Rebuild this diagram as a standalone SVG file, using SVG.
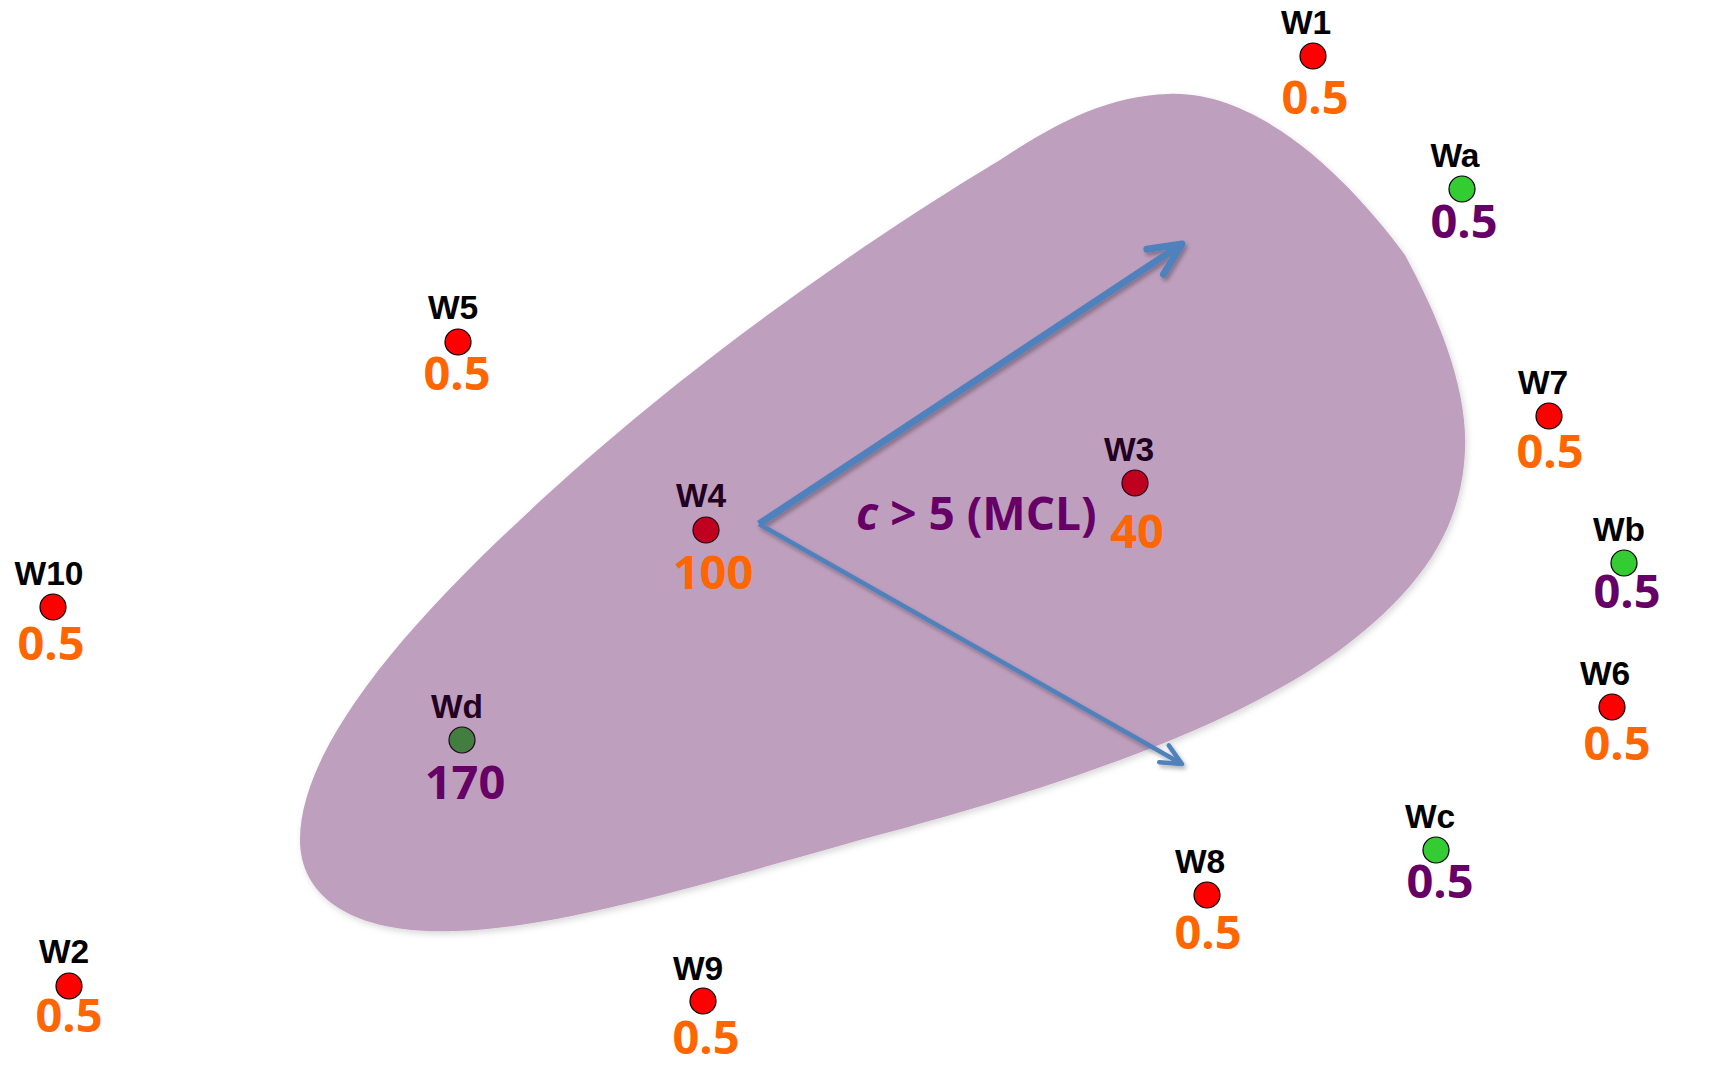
<svg xmlns="http://www.w3.org/2000/svg" width="1727" height="1067" viewBox="0 0 1727 1067">
<defs>
<style>
.lbl{font-family:"Liberation Sans",Arial,sans-serif;font-weight:700;font-size:33.5px;text-anchor:middle;fill:#000}
.lbl.in{fill:#22001f}
.val{font-family:"Open Sans","Liberation Sans",sans-serif;font-weight:700;font-size:47px;text-anchor:middle}
.or{fill:#ff6600}
.pu{fill:#660066}
.dot{stroke:#000;stroke-width:1.2}
.red{fill:#ff0000}
.grn{fill:#33cc33}
.redin{fill:#c0001f;stroke:#22001f}
.grnin{fill:#427e3f;stroke:#22001f}
.arrow{fill:none;stroke:#4f81bd;stroke-linecap:butt;marker-end:url(#ah)}
.note{font-family:"Open Sans","Liberation Sans",sans-serif;font-weight:700;font-size:46px;fill:#660066}
</style>
<marker id="ah" viewBox="-6 -4 8 8" markerWidth="8" markerHeight="8" refX="0" refY="0" orient="auto" markerUnits="strokeWidth" overflow="visible">
<path d="M-4.6 -2.15 L0 0 L-4.6 2.15" fill="none" stroke="#4f81bd" stroke-width="1" stroke-linecap="round" stroke-linejoin="round"/>
</marker>
<filter id="sh" x="-10%" y="-10%" width="130%" height="130%">
<feGaussianBlur in="SourceAlpha" stdDeviation="2"/>
<feOffset dx="2" dy="3" result="b"/>
<feFlood flood-color="#000" flood-opacity="0.3"/>
<feComposite in2="b" operator="in"/>
<feMerge><feMergeNode/><feMergeNode in="SourceGraphic"/></feMerge>
</filter>
<filter id="soft" x="-5%" y="-5%" width="110%" height="110%">
<feGaussianBlur in="SourceAlpha" stdDeviation="3"/>
<feOffset dx="2" dy="3" result="b"/>
<feFlood flood-color="#000" flood-opacity="0.15"/>
<feComposite in2="b" operator="in"/>
<feMerge><feMergeNode/><feMergeNode in="SourceGraphic"/></feMerge>
</filter>
</defs>
<rect width="1727" height="1067" fill="#fff"/>

<g id="region">
<path filter="url(#soft)" fill="#bf9fbe" d="M1168 94 C1260 90 1350 180 1405 255 C1440 320 1468 390 1465 450 C1462 530 1420 590 1340 650 C1230 730 1050 790 860 840 C700 885 560 928 455 931 C350 935 300 895 300 840 C300 760 380 650 520 520 C700 350 900 220 1000 160 C1060 120 1110 96 1168 94 Z"/>
</g>

<g id="W1"><circle class="dot red" cx="1313" cy="56" r="13"/><text class="lbl" x="1306" y="34">W1</text><text class="val or" x="1315" y="114">0.5</text></g>
<g id="Wa"><circle class="dot grn" cx="1462" cy="189" r="13"/><text class="lbl" x="1455" y="167">Wa</text><text class="val pu" x="1464" y="238">0.5</text></g>
<g id="W5"><circle class="dot red" cx="458" cy="342" r="13"/><text class="lbl" x="453" y="319">W5</text><text class="val or" x="457" y="390">0.5</text></g>
<g id="W7"><circle class="dot red" cx="1549" cy="416" r="13"/><text class="lbl" x="1543" y="394">W7</text><text class="val or" x="1550" y="468">0.5</text></g>
<g id="W3"><circle class="dot redin" cx="1135" cy="483" r="13"/><text class="lbl in" x="1129" y="461">W3</text><text class="val or" x="1137" y="548">40</text></g>
<g id="W4"><circle class="dot redin" cx="706" cy="530" r="13"/><text class="lbl in" x="701" y="507">W4</text><text class="val or" x="713" y="589">100</text></g>
<g id="Wb"><circle class="dot grn" cx="1624" cy="563" r="13"/><text class="lbl" x="1619" y="541">Wb</text><text class="val pu" x="1627" y="608">0.5</text></g>
<g id="W10"><circle class="dot red" cx="53" cy="607" r="13"/><text class="lbl" x="49" y="585">W10</text><text class="val or" x="51" y="660">0.5</text></g>
<g id="W6"><circle class="dot red" cx="1612" cy="707" r="13"/><text class="lbl" x="1605" y="685">W6</text><text class="val or" x="1617" y="760">0.5</text></g>
<g id="Wd"><circle class="dot grnin" cx="462" cy="740" r="13"/><text class="lbl in" x="457" y="718">Wd</text><text class="val pu" x="465" y="799">170</text></g>
<g id="Wc"><circle class="dot grn" cx="1436" cy="850" r="13"/><text class="lbl" x="1430" y="828">Wc</text><text class="val pu" x="1440" y="898">0.5</text></g>
<g id="W8"><circle class="dot red" cx="1207" cy="895" r="13"/><text class="lbl" x="1200" y="873">W8</text><text class="val or" x="1208" y="949">0.5</text></g>
<g id="W2"><circle class="dot red" cx="69" cy="986" r="13"/><text class="lbl" x="64" y="963">W2</text><text class="val or" x="69" y="1032">0.5</text></g>
<g id="W9"><circle class="dot red" cx="703" cy="1001" r="13"/><text class="lbl" x="698" y="980">W9</text><text class="val or" x="706" y="1054">0.5</text></g>

<g id="connectors" filter="url(#sh)">
<path class="arrow" stroke-width="7" d="M759 524 L1182 244"/>
<path class="arrow" stroke-width="4.5" d="M759 524 L1182 764"/>
</g>

<g id="label"><text class="note" x="856" y="530"><tspan font-style="italic">c</tspan> &gt; 5 (MCL)</text></g>
</svg>
